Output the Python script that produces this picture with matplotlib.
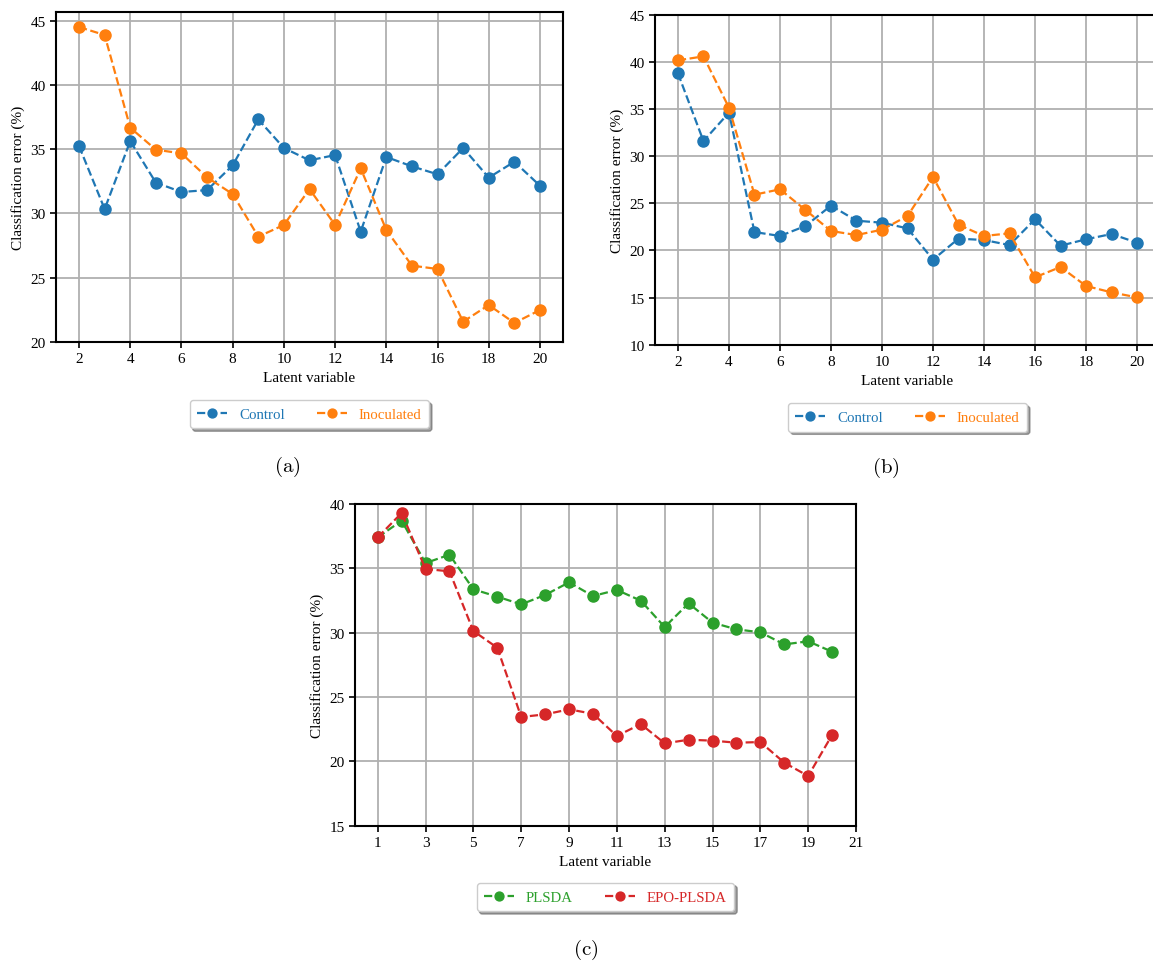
import matplotlib
matplotlib.use("Agg")
import matplotlib.pyplot as plt

plt.rcParams['font.family'] = ['Liberation Serif', 'DejaVu Serif']
plt.rcParams['mathtext.fontset'] = 'cm'

# panel (a)
lv_a = list(range(2, 21))
control_a = [35.25, 30.34, 35.64, 32.4, 31.67, 31.82, 33.75, 37.33, 35.1, 34.14,
             34.55, 28.58, 34.4, 33.67, 33.05, 35.1, 32.79, 34.03, 32.16]
inoc_a = [44.53, 43.91, 36.68, 34.97, 34.68, 32.81, 31.51, 28.19, 29.1, 31.9,
          29.1, 33.51, 28.71, 25.93, 25.67, 21.56, 22.86, 21.46, 22.47]

# panel (b)
lv_b = list(range(2, 21))
control_b = [38.78, 31.6, 34.61, 21.95, 21.53, 22.59, 24.75, 23.15, 22.94, 22.34,
             19.02, 21.25, 21.1, 20.57, 23.3, 20.5, 21.18, 21.74, 20.82]
inoc_b = [40.16, 40.58, 35.14, 25.91, 26.48, 24.29, 22.06, 21.63, 22.2, 23.65,
          27.79, 22.73, 21.53, 21.81, 17.15, 18.24, 16.23, 15.55, 15.02]

# panel (c)
lv_c = list(range(1, 21))
plsda = [37.41, 38.7, 35.41, 36.06, 33.37, 32.8, 32.2, 32.93, 33.91, 32.85,
         33.32, 32.49, 30.44, 32.28, 30.78, 30.26, 30.03, 29.09, 29.33, 28.52]
epo_plsda = [37.41, 39.3, 34.95, 34.77, 30.13, 28.83, 23.45, 23.65, 24.04, 23.7,
             21.97, 22.9, 21.4, 21.68, 21.61, 21.45, 21.5, 19.9, 18.86, 22.05]

W, H = 1153, 962
fig = plt.figure(figsize=(W / 100, H / 100), dpi=100)


def make_ax(x0, x1, y0, y1):
    return fig.add_axes([x0 / W, 1 - y1 / H, (x1 - x0) / W, (y1 - y0) / H])


def style(ax, series, colors, labels):
    for (x, y), c, lab in zip(series, colors, labels):
        ax.plot(x, y, '--o', color=c, lw=1.6, ms=8, label=lab, zorder=3)
    ax.grid(True, color='#b0b0b0', lw=1.3)
    ax.set_axisbelow(True)
    for s in ax.spines.values():
        s.set_linewidth(1.5)
    ax.tick_params(labelsize=11, width=1.2, length=4)
    ax.set_xlabel('Latent variable', fontsize=11)
    ax.set_ylabel('Classification error (%)', fontsize=11)
    leg = ax.legend(loc='upper center', bbox_to_anchor=(0.5, -0.155), ncol=2,
                    shadow=True, fontsize=10.7, labelcolor='linecolor',
                    columnspacing=2.2, handlelength=2.0, borderpad=0.5,
                    markerscale=0.8, fancybox=True)
    leg.get_frame().set_edgecolor('#cccccc')


ax_a = make_ax(56, 563, 13.3, 342.7)
style(ax_a, [(lv_a, control_a), (lv_a, inoc_a)], ['tab:blue', 'tab:orange'],
      ['Control', 'Inoculated'])
ax_a.set_xticks(range(2, 21, 2))
ax_a.set_xlim(1.1, 20.9)
ax_a.set_ylim(20, 45.68)

ax_b = make_ax(655, 1160, 15.7, 345.7)
style(ax_b, [(lv_b, control_b), (lv_b, inoc_b)], ['tab:blue', 'tab:orange'],
      ['Control', 'Inoculated'])
ax_b.set_xticks(range(2, 21, 2))
ax_b.set_xlim(1.1, 20.9)
ax_b.set_ylim(10, 45)

ax_c = make_ax(355, 856, 505, 826.7)
style(ax_c, [(lv_c, plsda), (lv_c, epo_plsda)], ['tab:green', 'tab:red'],
      ['PLSDA', 'EPO-PLSDA'])
ax_c.set_xticks(range(1, 22, 2))
ax_c.set_xlim(0.05, 21)
ax_c.set_ylim(15, 40)

fig.text(287 / W, 1 - 467 / H, r'$(\mathrm{a})$', fontsize=15, ha='center', va='center')
fig.text(886 / W, 1 - 468 / H, r'$(\mathrm{b})$', fontsize=15, ha='center', va='center')
fig.text(586 / W, 1 - 950 / H, r'$(\mathrm{c})$', fontsize=15, ha='center', va='center')

fig.savefig('out.png', dpi=100)
